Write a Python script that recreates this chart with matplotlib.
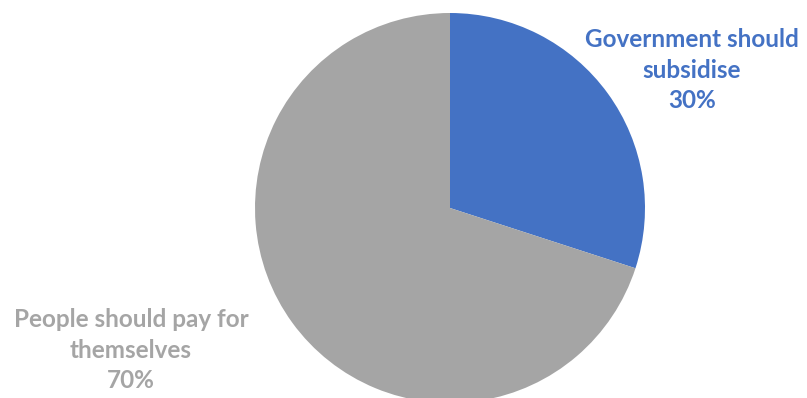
import matplotlib.pyplot as plt

labels = ["Government should\nsubsidise", "People should pay for\nthemselves"]
shares = [30, 70]
colors = ["#4472C4", "#A5A5A5"]

plt.rcParams['font.family'] = ['Lato', 'DejaVu Sans']

fig = plt.figure(figsize=(8.07, 3.98), dpi=100)
ax = fig.add_axes([0, 0, 1, 1])

wedges, _ = ax.pie(shares, colors=colors, startangle=90, counterclock=False,
                   center=(450, 190), radius=195, frame=True)
ax.set_xlim(0, 807)
ax.set_ylim(0, 398)
ax.set_aspect('equal')
ax.axis('off')

# label positions (pixel coords, y up)
label_pos = [(692, 328), (131, 48)]
for lab, val, col, (x, y) in zip(labels, shares, colors, label_pos):
    ax.text(x, y, f"{lab}\n{val}%", ha='center', va='center', color=col,
            fontsize=17.5, fontweight='bold', linespacing=1.42)

fig.savefig("out.png", dpi=100)
